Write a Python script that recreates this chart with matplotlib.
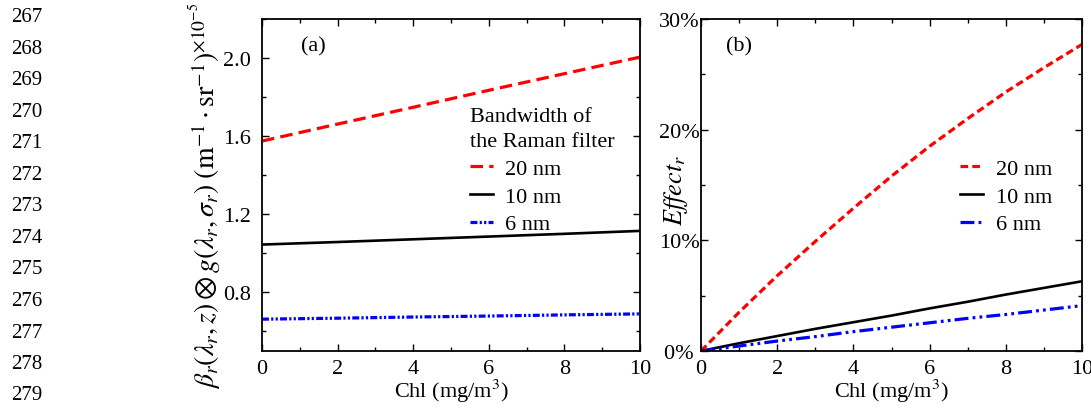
import numpy as np
import matplotlib
matplotlib.use("Agg")
import matplotlib.pyplot as plt
from matplotlib.ticker import MultipleLocator, FuncFormatter

plt.rcParams['font.family'] = ['Liberation Serif', 'DejaVu Serif']
plt.rcParams['mathtext.fontset'] = 'stix'
plt.rcParams['lines.scale_dashes'] = False

# data
chl = [0, 2, 4, 6, 8, 10]
beta_20nm = [1.575, 1.662, 1.748, 1.835, 1.92, 2.005]
beta_10nm = [1.045, 1.058, 1.072, 1.086, 1.100, 1.115]
beta_6nm = [0.663, 0.668, 0.674, 0.679, 0.685, 0.690]

chl_b = [0, 1, 2, 3, 4, 5, 6, 7, 8, 9, 10]
effect_20nm = [0, 3.5, 6.8, 9.9, 12.9, 15.8, 18.5, 21.0, 23.4, 25.6, 27.7]
effect_10nm = [0, 0.7, 1.35, 2.0, 2.6, 3.2, 3.85, 4.45, 5.1, 5.7, 6.3]
effect_6nm = [0, 0.45, 0.9, 1.3, 1.75, 2.15, 2.55, 2.95, 3.3, 3.7, 4.1]

labels = ['20 nm', '10 nm', '6 nm']
line_numbers = list(range(267, 280))

W, H = 1091, 410
fig = plt.figure(figsize=(W / 100, H / 100), dpi=100)

def px_axes(x0, y0, x1, y1):
    return fig.add_axes([x0 / W, 1 - y1 / H, (x1 - x0) / W, (y1 - y0) / H])

ax1 = px_axes(262, 20, 640, 352)
ax2 = px_axes(701, 20, 1082, 352)

# (a)
ax1.plot(chl, beta_20nm, color='#ff0000', lw=2.3, dashes=(9, 4.5), label=labels[0])
ax1.plot(chl, beta_10nm, color='black', lw=1.9, label=labels[1])
ax1.plot(chl, beta_6nm, color='#0000ff', lw=2.3, dashes=(5, 1.6, 1.6, 1.6, 1.6, 1.6), label=labels[2])
ax1.set_xlim(0, 10)
ax1.set_ylim(0.5, 2.2)
ax1.yaxis.set_major_locator(MultipleLocator(0.4))
ax1.yaxis.set_minor_locator(MultipleLocator(0.2))
ax1.yaxis.set_major_formatter(FuncFormatter(lambda v, p: f'{v:.1f}'))

# (b)
ax2.plot(chl_b, effect_20nm, color='#ff0000', lw=2.3, dashes=(5.5, 3), label=labels[0])
ax2.plot(chl_b, effect_10nm, color='black', lw=1.9, label=labels[1])
ax2.plot(chl_b, effect_6nm, color='#0000ff', lw=2.3, dashes=(10, 3, 2, 3, 2, 3), label=labels[2])
ax2.set_xlim(0, 10)
ax2.set_ylim(0, 30)
ax2.yaxis.set_major_locator(MultipleLocator(10))
ax2.yaxis.set_minor_locator(MultipleLocator(5))
ax2.yaxis.set_major_formatter(FuncFormatter(lambda v, p: '0% ' if v == 0 else f'{v:.0f}%'))

for ax in (ax1, ax2):
    ax.xaxis.set_major_locator(MultipleLocator(2))
    ax.xaxis.set_minor_locator(MultipleLocator(1))
    ax.tick_params(which='both', direction='in', top=True, right=True, width=1.0, labelsize=16)
    ax.tick_params(which='major', length=5)
    ax.tick_params(which='minor', length=3)
    ax.tick_params(axis='x', pad=6)
    for s in ax.spines.values():
        s.set_linewidth(1.3)
    ax.set_xlabel('Chl (mg/m$^3$)', fontsize=16, labelpad=-1)

ax1.tick_params(axis='y', pad=8)
ax2.tick_params(axis='y', pad=1)

ax1.text(0.135, 0.92, '(a)', transform=ax1.transAxes, fontsize=16, ha='center', va='center')
ax2.text(0.10, 0.92, '(b)', transform=ax2.transAxes, fontsize=16, ha='center', va='center')

fig.text(205 / W, 1 - 196 / H,
         r'$\beta_r(\lambda_r,z)\otimes g(\lambda_r,\sigma_r)\ (\mathrm{m}^{-1}\cdot\mathrm{sr}^{-1})^{\times10^{-5}}$',
         rotation=90, ha='center', va='center', fontsize=20)
fig.text(676 / W, 1 - 190 / H, r'$Effect_r$', rotation=90, ha='center', va='center', fontsize=19)

leg1 = ax1.legend(title='Bandwidth of\nthe Raman filter', loc='upper left',
                  bbox_to_anchor=(0.55, 0.735), frameon=False, fontsize=16, title_fontsize=16,
                  handlelength=1.05, handletextpad=0.55, labelspacing=0.32, borderpad=0,
                  borderaxespad=0)
leg1._legend_box.align = 'left'
leg1.get_title().set_linespacing(1.45)
ax2.legend(loc='upper left', bbox_to_anchor=(0.68, 0.58), frameon=False, fontsize=16,
           handlelength=1.05, handletextpad=0.55, labelspacing=0.32, borderpad=0, borderaxespad=0)

for i, n in enumerate(line_numbers):
    fig.text(27 / W, 1 - (18 + i * 31.5) / H, str(n), ha='center', va='center', fontsize=15)

fig.savefig('out.png', dpi=100)
